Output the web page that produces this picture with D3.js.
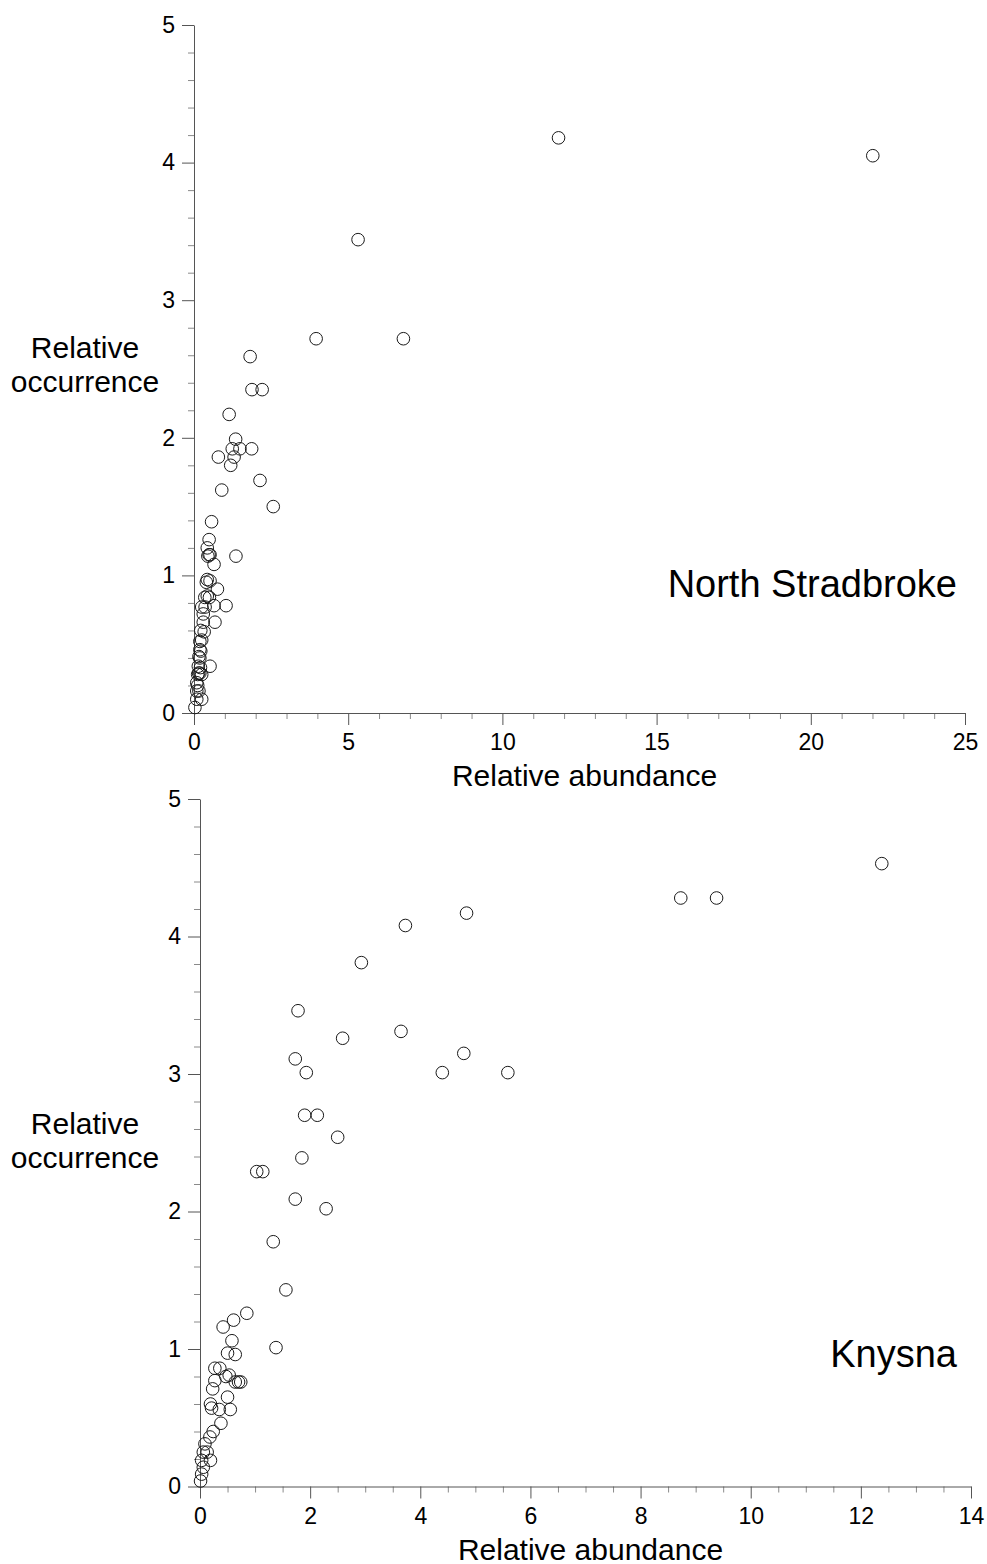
<!DOCTYPE html>
<html><head><meta charset="utf-8">
<script src="https://cdn.jsdelivr.net/npm/d3@7"></script>
<style>body{margin:0;background:#fff}svg{display:block;font-family:"Liberation Sans",Arial,sans-serif}</style>
</head><body><svg id="c" width="987" height="1564"></svg>
<script>
// North Stradbroke: [relative abundance, relative occurrence]
const stradX = [11.82,22.01,5.32,3.96,6.79,1.82,1.88,2.21,1.14,1.35,1.24,1.49,1.87,0.79,1.30,1.19,2.14,0.90,2.57,0.57,0.49,0.43,0.49,0.52,0.45,1.36,0.65,0.43,0.52,0.40,0.76,0.43,0.35,0.50,1.04,0.65,0.36,0.25,0.30,0.68,0.30,0.33,0.22,0.25,0.19,0.19,0.22,0.19,0.16,0.14,0.21,0.52,0.19,0.15,0.25,0.12,0.09,0.12,0.09,0.16,0.25,0.09,0.03];
const stradY = [4.18,4.05,3.44,2.72,2.72,2.59,2.35,2.35,2.17,1.99,1.92,1.92,1.92,1.86,1.86,1.80,1.69,1.62,1.50,1.39,1.26,1.20,1.15,1.15,1.14,1.14,1.08,0.97,0.96,0.95,0.90,0.85,0.84,0.84,0.78,0.78,0.77,0.77,0.72,0.66,0.66,0.59,0.60,0.53,0.52,0.46,0.45,0.40,0.41,0.34,0.33,0.34,0.29,0.29,0.28,0.28,0.22,0.20,0.16,0.16,0.10,0.10,0.04];
// Knysna
const knysX = [12.38,8.73,9.38,4.84,3.73,2.93,1.78,3.65,2.59,4.79,1.73,1.93,4.40,5.59,1.90,2.13,2.50,1.85,1.03,1.14,1.73,2.29,1.33,1.56,0.85,0.61,0.42,0.58,1.38,0.50,0.64,0.27,0.36,0.53,0.47,0.27,0.64,0.70,0.74,0.23,0.50,0.19,0.21,0.35,0.55,0.38,0.24,0.18,0.09,0.06,0.13,0.03,0.19,0.06,0.03,0.01];
const knysY = [4.53,4.28,4.28,4.17,4.08,3.81,3.46,3.31,3.26,3.15,3.11,3.01,3.01,3.01,2.70,2.70,2.54,2.39,2.29,2.29,2.09,2.02,1.78,1.43,1.26,1.21,1.16,1.06,1.01,0.97,0.96,0.86,0.86,0.81,0.80,0.77,0.76,0.76,0.76,0.71,0.65,0.60,0.57,0.56,0.56,0.46,0.40,0.36,0.31,0.25,0.25,0.19,0.19,0.14,0.09,0.04];
const yTicks = [0,1,2,3,4,5];
const stradXTicks = [0,5,10,15,20,25];
const knysXTicks = [0,2,4,6,8,10,12,14];

const svg = d3.select("#c");

function panel(cfg){
  const x = d3.scaleLinear().domain([0, cfg.xMax]).range([cfg.x0, cfg.x1]);
  const y = d3.scaleLinear().domain([0, 5]).range([cfg.y0, cfg.y1]);
  const g = svg.append("g");
  // minor ticks
  const xMinor = d3.range(0, cfg.xMax + 1e-9, cfg.xMinor).filter(v => !cfg.xTicks.some(t => Math.abs(t - v) < 1e-9));
  const yMinor = d3.range(0, 5 + 1e-9, 0.2).filter(v => Math.abs(v - Math.round(v)) > 1e-6);
  g.append("g").attr("transform", `translate(0,${cfg.y0})`)
    .call(d3.axisBottom(x).tickValues(xMinor).tickSize(6).tickSizeOuter(0).tickFormat(""))
    .call(s => s.select(".domain").remove())
    .call(s => s.selectAll("line").attr("stroke", "#8a8a8a"));
  g.append("g").attr("transform", `translate(${cfg.x0},0)`)
    .call(d3.axisLeft(y).tickValues(yMinor).tickSize(6).tickSizeOuter(0).tickFormat(""))
    .call(s => s.select(".domain").remove())
    .call(s => s.selectAll("line").attr("stroke", "#8a8a8a"));
  // major axes
  const xa = g.append("g").attr("transform", `translate(0,${cfg.y0})`)
    .call(d3.axisBottom(x).tickValues(cfg.xTicks).tickSize(12).tickSizeOuter(0).tickPadding(9).tickFormat(d3.format("d")));
  const ya = g.append("g").attr("transform", `translate(${cfg.x0},0)`)
    .call(d3.axisLeft(y).tickValues(yTicks).tickSize(12).tickSizeOuter(0).tickPadding(7).tickFormat(d3.format("d")));
  [xa, ya].forEach(a => {
    a.select(".domain").attr("stroke", "#555");
    a.selectAll(".tick line").attr("stroke", "#555");
    a.selectAll("text").attr("font-size", 23).attr("fill", "#000").attr("font-family", "Liberation Sans, Arial, sans-serif");
  });
  // points
  g.append("g").selectAll("circle").data(cfg.xs.map((v, i) => [v, cfg.ys[i]])).join("circle")
    .attr("cx", d => x(d[0])).attr("cy", d => y(d[1])).attr("r", 6.3)
    .attr("fill", "none").attr("stroke", "#1a1a1a").attr("stroke-width", 1);
  // titles
  const t = g.append("g").attr("font-size", 30).attr("fill", "#000");
  t.append("text").attr("x", (cfg.x0 + cfg.x1) / 2 + 5).attr("y", cfg.y0 + 73).attr("text-anchor", "middle").text("Relative abundance");
  t.append("text").attr("x", 85).attr("y", cfg.yl).attr("text-anchor", "middle").text("Relative");
  t.append("text").attr("x", 85).attr("y", cfg.yl + 34).attr("text-anchor", "middle").text("occurrence");
  g.append("text").attr("x", 957).attr("y", cfg.ny).attr("text-anchor", "end").attr("font-size", 38).attr("fill", "#000").text(cfg.name);
}

panel({xs: stradX, ys: stradY, xMax: 25, xTicks: stradXTicks, xMinor: 1,
  x0: 194, x1: 965, y0: 713, y1: 25, yl: 358, ny: 597, name: "North Stradbroke"});
panel({xs: knysX, ys: knysY, xMax: 14, xTicks: knysXTicks, xMinor: 0.5,
  x0: 200, x1: 971, y0: 1486.5, y1: 799, yl: 1134, ny: 1367, name: "Knysna"});
</script></body></html>
